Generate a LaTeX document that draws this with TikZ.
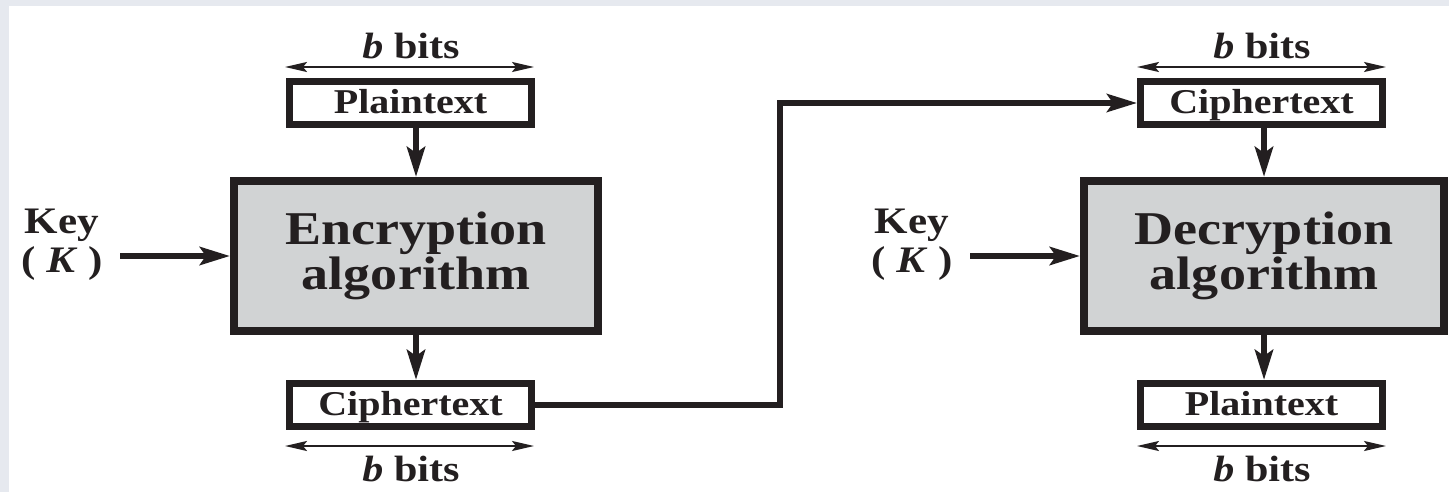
\documentclass[tikz,border=0pt]{standalone}
\usepackage{fontspec}
\setmainfont{Liberation Serif}[FakeStretch=1.15]
\usetikzlibrary{arrows.meta}
\definecolor{ink}{HTML}{231F20}
\definecolor{boxgray}{HTML}{D1D3D4}
\definecolor{framecol}{HTML}{E6E9EF}
\begin{document}
\begin{tikzpicture}[x=0.5pt,y=-0.5pt,
  smallbox/.style={draw=ink, line width=3.5pt, fill=white, minimum width=121pt,
    minimum height=21.5pt, inner sep=0pt, text=ink, text height=11pt, text depth=0.5pt,
    font=\fontsize{17.4}{21}\selectfont\bfseries},
  bigbox/.style={draw=ink, line width=4pt, fill=boxgray, minimum height=75pt,
    inner sep=0pt, align=center, text=ink,
    font=\fontsize{23.5}{20.5}\selectfont\bfseries},
  keylabel/.style={align=center, inner sep=0pt, text=ink,
    font=\fontsize{18.7}{19.5}\selectfont\bfseries},
  dimlabel/.style={inner sep=0pt, text=ink, font=\fontsize{18.3}{22}\selectfont\bfseries},
  thickarrow/.style={draw=ink, line width=3pt, line join=miter,
    -{Stealth[length=15pt,width=9pt,inset=3pt]}},
  dimarrow/.style={draw=ink, line width=1pt,
    {Stealth[length=11pt,width=5pt,inset=2pt]}-{Stealth[length=11pt,width=5pt,inset=2pt]}}
]
% page frame
\useasboundingbox (0,0) rectangle (1449,492);
\fill[framecol] (0,0) rectangle (1449,492);
\fill[white] (9,6) rectangle (1449,492);

% ---- encryption side ----
\node[bigbox, minimum width=182pt] (enc) at (416,256) {Encryption\\algorithm};
\node[smallbox] (pt1) at (410.5,103) {Plaintext};
\node[smallbox] (ct1) at (410.5,405) {Ciphertext};
\node[keylabel] (key1) at (62,245) {Key\\( \textit{K} )};
\coordinate (k1) at (120,256);

\draw[thickarrow] (k1) -- (enc.west);
\draw[thickarrow] (pt1.south -| enc.north) -- (enc.north);
\draw[thickarrow] (enc.south) -- (ct1.north -| enc.south);

\coordinate (d1a) at (285,67);  \coordinate (d1b) at (534,67);
\draw[dimarrow] (d1a) -- (d1b);
\node[dimlabel] (bits1) at (411,46) {\textit{b} bits};
\coordinate (d2a) at (285,446); \coordinate (d2b) at (534,446);
\draw[dimarrow] (d2a) -- (d2b);
\node[dimlabel] (bits2) at (411,469) {\textit{b} bits};

% ---- decryption side ----
\node[bigbox, minimum width=180pt] (dec) at (1264,256) {Decryption\\algorithm};
\node[smallbox] (ct2) at (1261.5,103) {Ciphertext};
\node[smallbox] (pt2) at (1261.5,405) {Plaintext};
\node[keylabel] (key2) at (912,245) {Key\\( \textit{K} )};
\coordinate (k2) at (970,256);

\draw[thickarrow] (k2) -- (dec.west);
\draw[thickarrow] (ct2.south -| dec.north) -- (dec.north);
\draw[thickarrow] (dec.south) -- (pt2.north -| dec.south);

\coordinate (d3a) at (1137,67);  \coordinate (d3b) at (1386,67);
\draw[dimarrow] (d3a) -- (d3b);
\node[dimlabel] (bits3) at (1262,46) {\textit{b} bits};
\coordinate (d4a) at (1137,446); \coordinate (d4b) at (1386,446);
\draw[dimarrow] (d4a) -- (d4b);
\node[dimlabel] (bits4) at (1262,469) {\textit{b} bits};

% ---- transmission link ----
\coordinate (turn) at (780,256);
\draw[thickarrow, line width=2.75pt] (ct1.east) -| (turn) |- (ct2.west);
\end{tikzpicture}
\end{document}
